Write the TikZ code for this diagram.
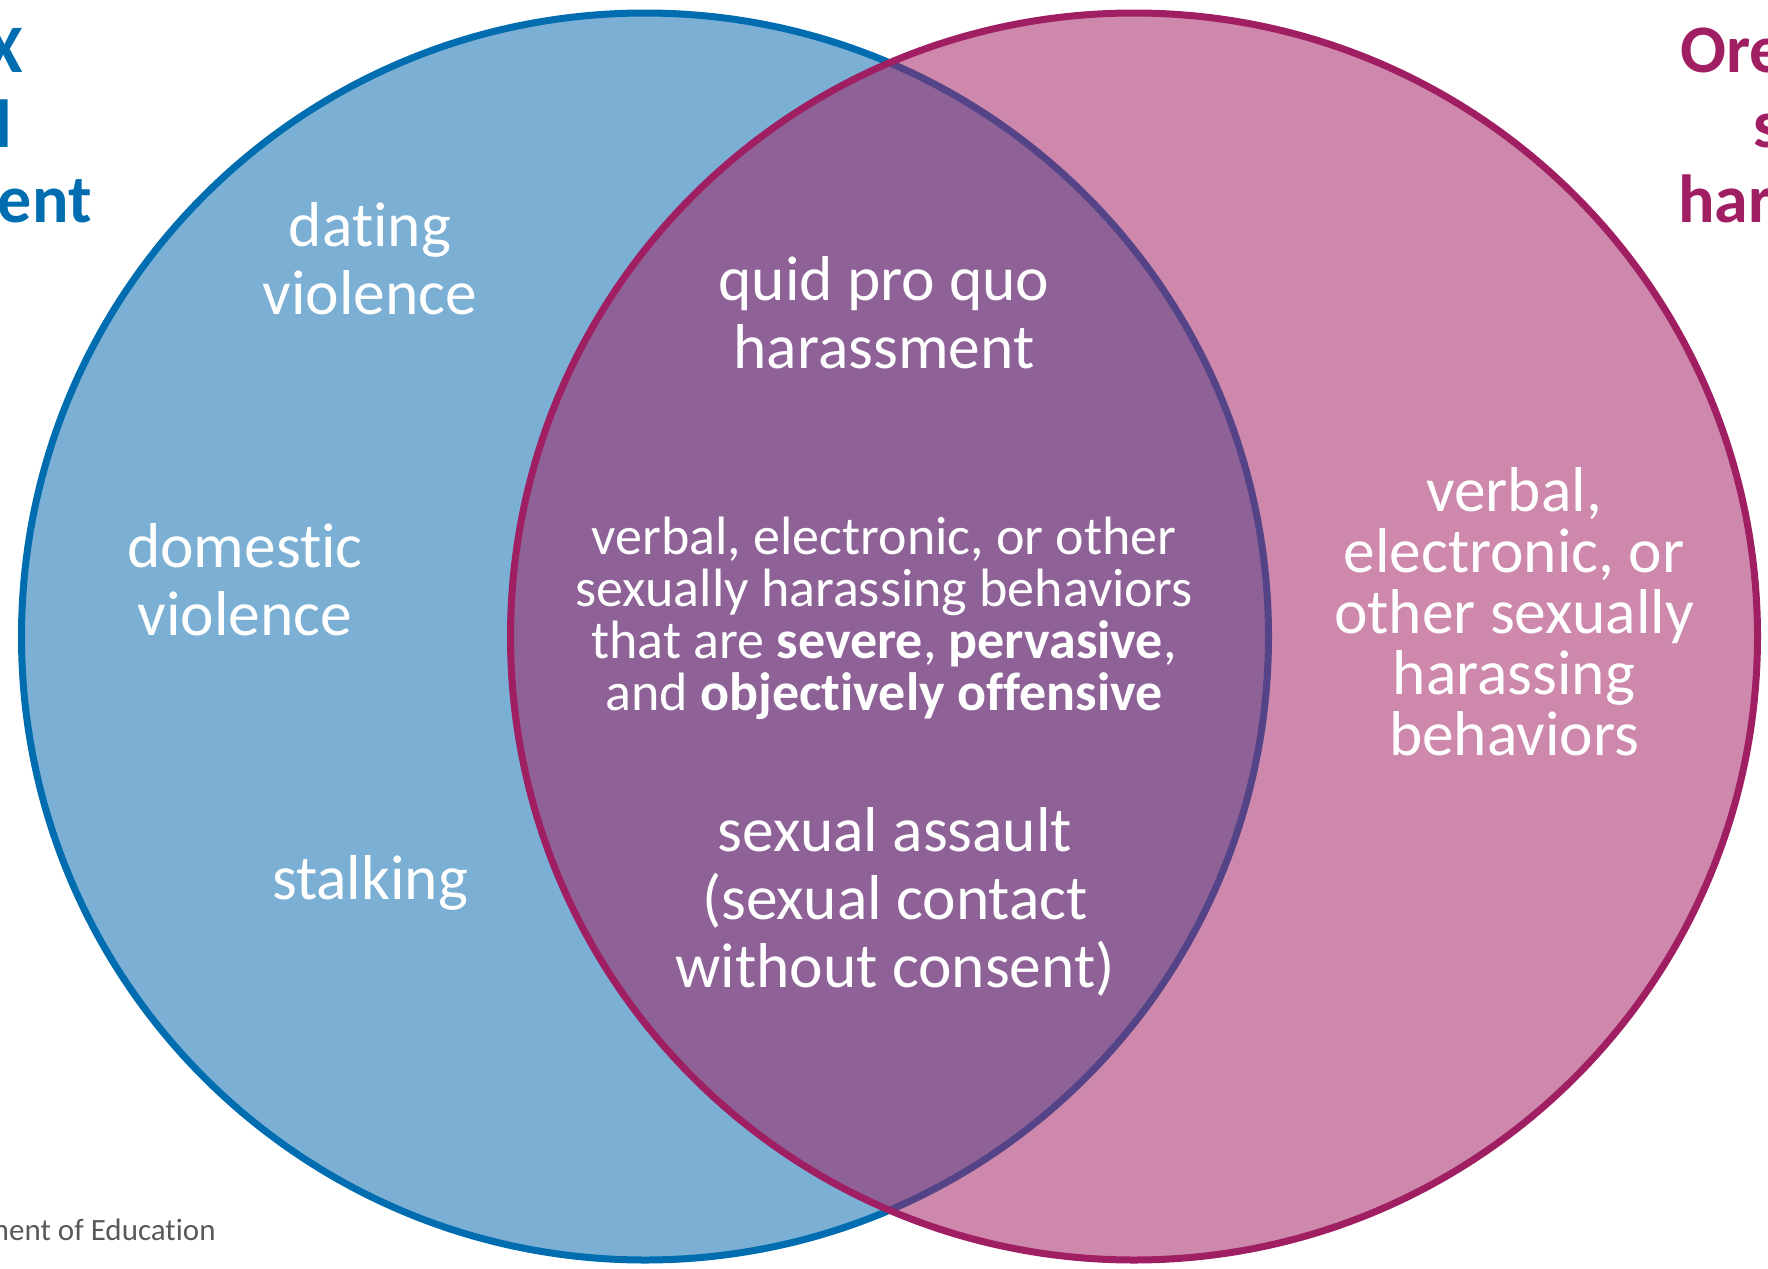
\documentclass[tikz,border=0pt]{standalone}
\usepackage{fontspec}
\setmainfont{Carlito}[Ligatures={NoCommon,NoRare}]
\definecolor{ixblue}{RGB}{0,109,176}
\definecolor{ixlight}{RGB}{123,175,212}
\definecolor{orpink}{RGB}{160,30,98}
\definecolor{srcgray}{RGB}{89,89,89}

\begin{document}
\begin{tikzpicture}[x=0.5pt,y=-0.5pt,
    item/.style={text=white,align=center,inner sep=0pt,font=\fontsize{31.7}{34}\selectfont},
    core/.style={text=white,align=center,inner sep=0pt,font=\fontsize{27}{26}\selectfont},
    side/.style={text=white,align=center,inner sep=0pt,font=\fontsize{31.7}{30.5}\selectfont},
    ixtitle/.style={text=ixblue,inner sep=0pt,anchor=base east,font=\fontsize{34}{37.5}\selectfont\bfseries},
    ortitle/.style={text=orpink,inner sep=0pt,anchor=base west,font=\fontsize{34}{37.5}\selectfont\bfseries}]
    \clip (0,0) rectangle (1768,1269);
    \coordinate (ixc) at (645,636.5);
    \coordinate (orc) at (1134,636.5);

    % the two circles
    \fill[ixlight] (ixc) circle[radius=311.75pt];
    \draw[ixblue,line width=3.5pt] (ixc) circle[radius=311.75pt];
    \fill[orpink,fill opacity=0.53] (orc) circle[radius=311.75pt];
    \draw[orpink,line width=3.5pt] (orc) circle[radius=311.75pt];

    % headings, cut by the page edge
    \node[ixtitle] (ixt1) at (23,72) {X};
    \node[ixtitle] (ixt2) at (13,147) {l};
    \node[ixtitle] (ixt3) at (92,222) {ent};
    \node[ortitle] (ort1) at (1680,72) {Ore};
    \node[ortitle] (ort2) at (1753,147) {s};
    \node[ortitle] (ort3) at (1678,222) {har};

    % left only
    \node[item] (dating) at (370,259) {dating\\violence};
    \node[item] (domestic) at (245,580) {domestic\\violence};
    \node[item] (stalking) at (370,883) {stalking};

    % both
    \node[item] (quid) at (884,313) {quid pro quo\\harassment};
    \node[core] (severe) at (884,618) {verbal, electronic, or other\\sexually harassing behaviors\\that are \textbf{severe}, \textbf{pervasive},\\and \textbf{objectively offensive}};
    \node[item] (assault) at (895,902) {sexual assault\\(sexual contact\\without consent)};

    % right only
    \node[side] (verbal) at (1514,612) {verbal,\\electronic, or\\other sexually\\harassing\\behaviors};

    \node[text=srcgray,inner sep=0pt,anchor=base east,font=\fontsize{15.5}{18}\selectfont] (source) at (216,1240) {ment of Education};
\end{tikzpicture}
\end{document}
